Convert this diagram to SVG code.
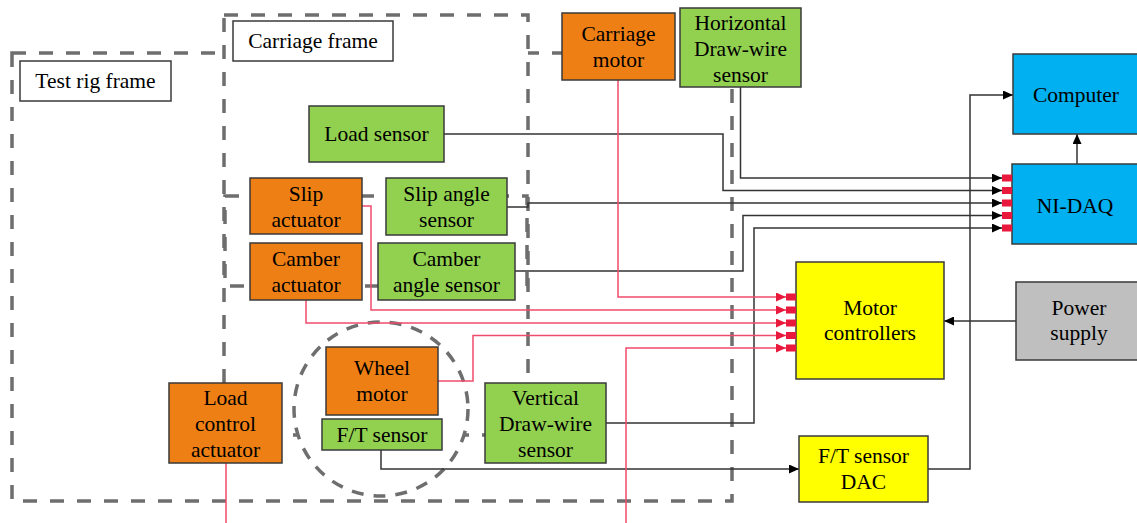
<svg xmlns="http://www.w3.org/2000/svg" width="1137" height="523" viewBox="0 0 1137 523">
<style>
.frame{fill:none;stroke:#6e6e6e;stroke-width:3.5;stroke-dasharray:14 13}
.box{stroke:#3a3a3a;stroke-width:1.5}
.lbl{fill:#ffffff;stroke:#3a3a3a;stroke-width:1.5}
.or{fill:#ee7f14}
.gr{fill:#92d050}
.bl{fill:#00b0f0}
.ye{fill:#ffff00}
.gy{fill:#bfbfbf}
text{font-family:'Liberation Serif',serif;font-size:21.5px;fill:#000;text-anchor:middle}
.blk{fill:none;stroke:#333333;stroke-width:1.5}
.red{fill:none;stroke:#ef4b6a;stroke-width:1.5}
.pin{fill:#e8193c}
</style>
<defs>
<marker id="ab" markerUnits="userSpaceOnUse" markerWidth="10" markerHeight="9" refX="10" refY="4.5" orient="auto"><path d="M0,0 L10,4.5 L0,9 z" fill="#000"/></marker>
<marker id="ar" markerUnits="userSpaceOnUse" markerWidth="10" markerHeight="9" refX="10" refY="4.5" orient="auto"><path d="M0,0 L10,4.5 L0,9 z" fill="#e8193c"/></marker>
</defs>
<g id="frames">
<rect class="frame" x="12" y="53" width="720" height="448"/>
<rect class="frame" x="224" y="15" width="304" height="420" style="fill:#fff"/>
<rect class="frame" x="225" y="196" width="302" height="90"/>
<ellipse class="frame" cx="381" cy="409" rx="87" ry="87" style="fill:#fff;stroke-dasharray:12 10"/>
</g>
<g id="connectors">
<path class="blk" d="M740.5,87 V178 H1002" marker-end="url(#ab)"/>
<path class="blk" d="M444,134 H723 V190.5 H1002" marker-end="url(#ab)"/>
<path class="blk" d="M507,207 H528 V203 H1002" marker-end="url(#ab)"/>
<path class="blk" d="M515,271 H743 V215.5 H1002" marker-end="url(#ab)"/>
<path class="blk" d="M606,423 H754 V228 H1002" marker-end="url(#ab)"/>
<path class="blk" d="M928,469 H970 V95 H1013" marker-end="url(#ab)"/>
<path class="blk" d="M1077,164 V134" marker-end="url(#ab)"/>
<path class="blk" d="M1016,321 H944" marker-end="url(#ab)"/>
<path class="blk" d="M381,450 V469 H799" marker-end="url(#ab)"/>
<path class="red" d="M618,80 V297 H786" marker-end="url(#ar)"/>
<path class="red" d="M362,206 H371 V310 H786" marker-end="url(#ar)"/>
<path class="red" d="M306,300 V323 H786" marker-end="url(#ar)"/>
<path class="red" d="M438,381 H473 V335.5 H786" marker-end="url(#ar)"/>
<path class="red" d="M626,523 V348 H786" marker-end="url(#ar)"/>
<path class="red" d="M226,463 V523"/>
</g>
<g id="test-rig-frame-label"><rect class="lbl" x="20" y="61" width="151" height="40"/><text x="95.5" y="88">Test rig frame</text></g>
<g id="carriage-frame-label"><rect class="lbl" x="233" y="21" width="160" height="40"/><text x="313" y="48">Carriage frame</text></g>
<g id="carriage-motor"><rect class="box or" x="562" y="13" width="113" height="67"/><text x="618.5" y="41">Carriage</text><text x="618.5" y="67">motor</text></g>
<g id="horizontal-draw-wire"><rect class="box gr" x="680" y="8" width="121" height="79"/><text x="740.5" y="30">Horizontal</text><text x="740.5" y="56">Draw-wire</text><text x="740.5" y="82">sensor</text></g>
<g id="load-sensor"><rect class="box gr" x="309" y="106" width="135" height="56"/><text x="376.5" y="141">Load sensor</text></g>
<g id="slip-actuator"><rect class="box or" x="250" y="178" width="112" height="56"/><text x="306" y="201">Slip</text><text x="306" y="227">actuator</text></g>
<g id="slip-angle-sensor"><rect class="box gr" x="386" y="178" width="121" height="57"/><text x="446.5" y="201">Slip angle</text><text x="446.5" y="227">sensor</text></g>
<g id="camber-actuator"><rect class="box or" x="250" y="243" width="112" height="57"/><text x="306" y="266">Camber</text><text x="306" y="292">actuator</text></g>
<g id="camber-angle-sensor"><rect class="box gr" x="378" y="243" width="137" height="57"/><text x="446.5" y="266">Camber</text><text x="446.5" y="292">angle sensor</text></g>
<g id="wheel-motor"><rect class="box or" x="326" y="347" width="112" height="68"/><text x="382" y="375">Wheel</text><text x="382" y="401">motor</text></g>
<g id="ft-sensor"><rect class="box gr" x="322" y="419" width="120" height="31"/><text x="382" y="442">F/T sensor</text></g>
<g id="load-control-actuator"><rect class="box or" x="169" y="383" width="113" height="80"/><text x="225.5" y="405">Load</text><text x="225.5" y="431">control</text><text x="225.5" y="457">actuator</text></g>
<g id="vertical-draw-wire"><rect class="box gr" x="485" y="383" width="121" height="80"/><text x="545.5" y="405">Vertical</text><text x="545.5" y="431">Draw-wire</text><text x="545.5" y="457">sensor</text></g>
<g id="motor-controllers"><rect class="box ye" x="796" y="262" width="148" height="117"/><text x="870" y="315">Motor</text><text x="870" y="340">controllers</text>
<rect class="pin" x="786" y="293.5" width="10" height="7"/><rect class="pin" x="786" y="306.5" width="10" height="7"/><rect class="pin" x="786" y="319.5" width="10" height="7"/><rect class="pin" x="786" y="332" width="10" height="7"/><rect class="pin" x="786" y="344.5" width="10" height="7"/></g>
<g id="ft-sensor-dac"><rect class="box ye" x="799" y="436" width="129" height="66"/><text x="863.5" y="463">F/T sensor</text><text x="863.5" y="489">DAC</text></g>
<g id="ni-daq"><rect class="box bl" x="1012" y="164" width="130" height="80"/><text x="1075" y="213">NI-DAQ</text>
<rect class="pin" x="1002" y="174.5" width="10" height="7"/><rect class="pin" x="1002" y="187" width="10" height="7"/><rect class="pin" x="1002" y="199.5" width="10" height="7"/><rect class="pin" x="1002" y="212" width="10" height="7"/><rect class="pin" x="1002" y="224.5" width="10" height="7"/></g>
<g id="computer"><rect class="box bl" x="1013" y="54" width="130" height="80"/><text x="1076" y="102">Computer</text></g>
<g id="power-supply"><rect class="box gy" x="1016" y="282" width="127" height="78"/><text x="1079" y="315">Power</text><text x="1079" y="340">supply</text></g>
</svg>
